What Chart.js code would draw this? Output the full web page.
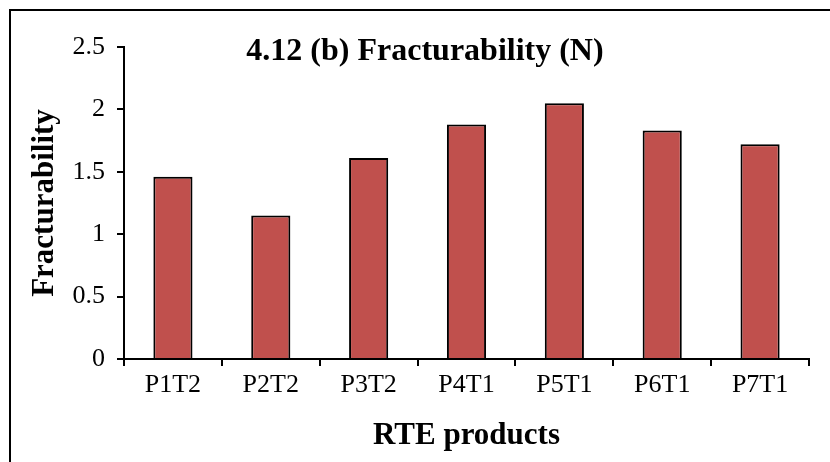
<!DOCTYPE html>
<html>
<head>
<meta charset="utf-8">
<script src="https://cdn.jsdelivr.net/npm/chart.js@4"></script>
<style>
  body { margin: 0; background: #fff; }
  #wrap { position: relative; width: 830px; height: 462px; }
  #frame { position: absolute; left: 9px; top: 9px; width: 900px; height: 500px;
           border-left: 2px solid #000; border-top: 2px solid #000; }
  canvas { position: absolute; left: 0; top: 0; }
</style>
</head>
<body>
<div id="wrap">
  <div id="frame"></div>
  <canvas id="myChart" width="830" height="462"></canvas>
</div>
<script>
const products = ['P1T2', 'P2T2', 'P3T2', 'P4T1', 'P5T1', 'P6T1', 'P7T1'];
const fracturability = [1.46, 1.15, 1.61, 1.88, 2.05, 1.83, 1.72];
const chartTitle = '4.12 (b) Fracturability (N)';

const serif = 'Liberation Serif';

// title sits inside the plot area, not centred on it
const titleInside = {
  id: 'titleInside',
  afterDraw(chart) {
    const c = chart.ctx;
    c.save();
    c.font = 'bold 32px "' + serif + '"';
    c.fillStyle = '#000';
    c.textAlign = 'center';
    c.textBaseline = 'middle';
    c.fillText(chartTitle, 425, 52);
    c.restore();
  }
};

const ctx = document.querySelector('#myChart');
new Chart(ctx, {
  type: 'bar',
  data: {
    labels: products,
    datasets: [{
      label: 'Fracturability',
      data: fracturability,
      backgroundColor: '#C0504D',
      borderColor: '#000',
      borderWidth: 2,
      barPercentage: 0.4,
      categoryPercentage: 1
    }]
  },
  options: {
    responsive: false,
    animation: false,
    layout: { padding: { left: 12, top: 47, right: 21, bottom: 0 } },
    plugins: { legend: { display: false }, tooltip: { enabled: false } },
    scales: {
      x: {
        grid: { drawOnChartArea: false, drawTicks: true, tickLength: 7, color: '#000', lineWidth: 2, offset: true },
        border: { color: '#000', width: 2 },
        ticks: { color: '#000', font: { family: serif, size: 26 }, padding: 4, maxRotation: 0 },
        title: { display: true, text: 'RTE products', color: '#000',
                 font: { family: serif, size: 31, weight: 'bold' }, padding: { top: 0, bottom: 7 } },
        afterFit(scale) { scale.height = 462 - 359; }
      },
      y: {
        min: 0,
        max: 2.5,
        ticks: {
          stepSize: 0.5, color: '#000', font: { family: serif, size: 26 }, padding: 12,
          callback: (v) => String(v)
        },
        grid: { drawOnChartArea: false, drawTicks: true, tickLength: 7, color: '#000', lineWidth: 2 },
        border: { color: '#000', width: 2 },
        title: { display: true, text: 'Fracturability', color: '#000',
                 font: { family: serif, size: 31, weight: 'bold' }, padding: { top: 14, bottom: 0 } },
        afterFit(scale) { scale.width = 124 - 12; }
      }
    }
  },
  plugins: [titleInside]
});
</script>
</body>
</html>
